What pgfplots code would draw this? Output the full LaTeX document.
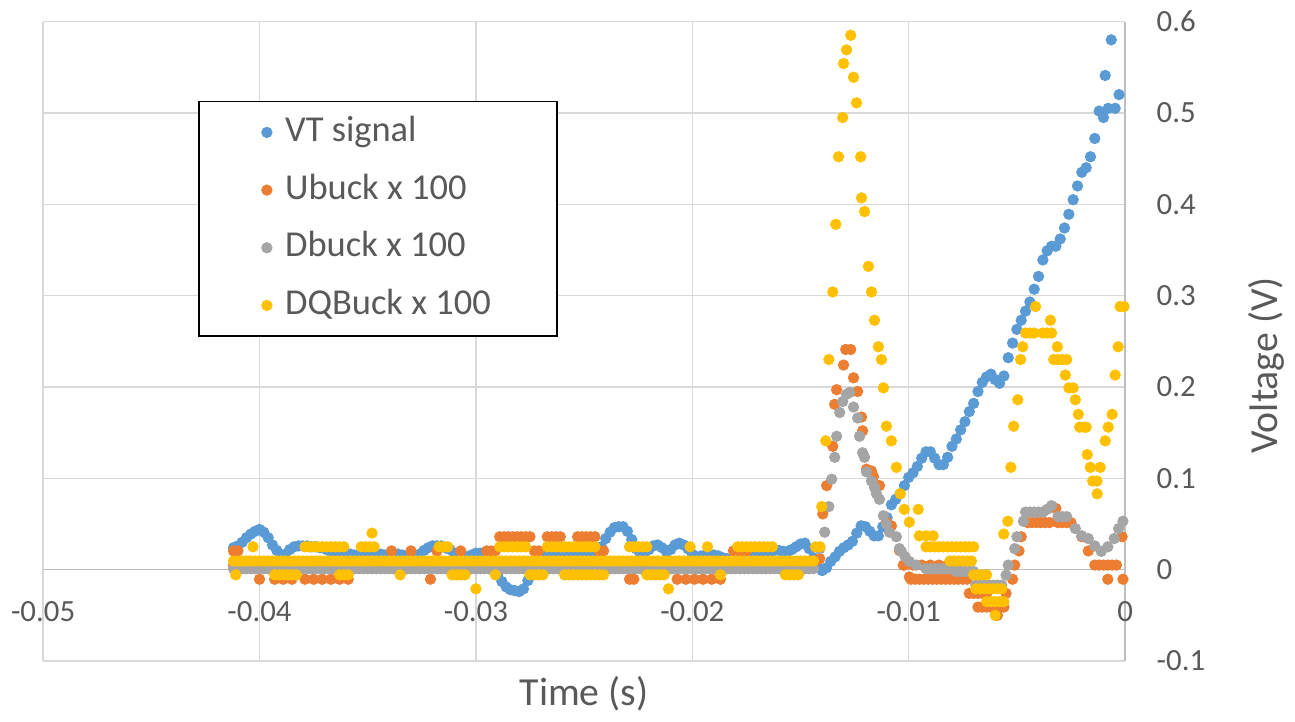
\documentclass[border=0pt]{standalone}
\usepackage{pgfplots}
\usepackage{pgfplotstable}
\pgfplotsset{compat=1.18}
\usepackage{fontspec}
\setmainfont{Carlito}

\definecolor{vtblue}{HTML}{5B9BD5}
\definecolor{ubuck}{HTML}{ED7D31}
\definecolor{dbuck}{HTML}{A5A5A5}
\definecolor{dqbuck}{HTML}{FFC000}
\definecolor{labelgray}{HTML}{595959}
\definecolor{gridgray}{HTML}{D9D9D9}
\definecolor{axisgray}{HTML}{BFBFBF}

% common sample grid: VT signal and the flat part of the three buck traces
\pgfplotstableread{
t vt ub db dq
-0.0412 0.024 0.005 0.001 0.0095
-0.0410 0.026 0.005 0.001 0.0095
-0.0408 0.030 0.005 0.001 0.0095
-0.0406 0.035 0.005 0.001 0.0095
-0.0404 0.039 0.005 0.001 0.0095
-0.0402 0.042 0.005 0.001 0.0095
-0.0400 0.044 0.005 0.001 0.0095
-0.0398 0.041 0.005 0.001 0.0095
-0.0396 0.035 0.005 0.001 0.0095
-0.0394 0.027 0.005 0.001 0.0095
-0.0392 0.021 0.005 0.001 0.0095
-0.0390 0.016 0.005 0.001 0.0095
-0.0388 0.017 0.005 0.001 0.0095
-0.0386 0.022 0.005 0.001 0.0095
-0.0384 0.025 0.005 0.001 0.0095
-0.0382 0.026 0.005 0.001 0.0095
-0.0380 0.026 0.005 0.001 0.0095
-0.0378 0.026 0.005 0.001 0.0095
-0.0376 0.025 0.005 0.001 0.0095
-0.0374 0.025 0.005 0.001 0.0095
-0.0372 0.024 0.005 0.001 0.0095
-0.0370 0.023 0.005 0.001 0.0095
-0.0368 0.021 0.005 0.001 0.0095
-0.0366 0.020 0.005 0.001 0.0095
-0.0364 0.020 0.005 0.001 0.0095
-0.0362 0.019 0.005 0.001 0.0095
-0.0360 0.017 0.005 0.001 0.0095
-0.0358 0.017 0.005 0.001 0.0095
-0.0356 0.016 0.005 0.001 0.0095
-0.0354 0.015 0.005 0.001 0.0095
-0.0352 0.014 0.005 0.001 0.0095
-0.0350 0.014 0.005 0.001 0.0095
-0.0348 0.015 0.005 0.001 0.0095
-0.0346 0.017 0.005 0.001 0.0095
-0.0344 0.017 0.005 0.001 0.0095
-0.0342 0.016 0.005 0.001 0.0095
-0.0340 0.014 0.005 0.001 0.0095
-0.0338 0.015 0.005 0.001 0.0095
-0.0336 0.017 0.005 0.001 0.0095
-0.0334 0.016 0.005 0.001 0.0095
-0.0332 0.015 0.005 0.001 0.0095
-0.0330 0.014 0.005 0.001 0.0095
-0.0328 0.015 0.005 0.001 0.0095
-0.0326 0.017 0.005 0.001 0.0095
-0.0324 0.021 0.005 0.001 0.0095
-0.0322 0.024 0.005 0.001 0.0095
-0.0320 0.026 0.005 0.001 0.0095
-0.0318 0.026 0.005 0.001 0.0095
-0.0316 0.026 0.005 0.001 0.0095
-0.0314 0.024 0.005 0.001 0.0095
-0.0312 0.022 0.005 0.001 0.0095
-0.0310 0.018 0.005 0.001 0.0095
-0.0308 0.014 0.005 0.001 0.0095
-0.0306 0.012 0.005 0.001 0.0095
-0.0304 0.014 0.005 0.001 0.0095
-0.0302 0.016 0.005 0.001 0.0095
-0.0300 0.018 0.005 0.001 0.0095
-0.0298 0.018 0.005 0.001 0.0095
-0.0296 0.015 0.005 0.001 0.0095
-0.0294 0.010 0.005 0.001 0.0095
-0.0292 0.002 0.005 0.001 0.0095
-0.0290 -0.006 0.005 0.001 0.0095
-0.0288 -0.013 0.005 0.001 0.0095
-0.0286 -0.019 0.005 0.001 0.0095
-0.0284 -0.022 0.005 0.001 0.0095
-0.0282 -0.023 0.005 0.001 0.0095
-0.0280 -0.024 0.005 0.001 0.0095
-0.0278 -0.021 0.005 0.001 0.0095
-0.0276 -0.012 0.005 0.001 0.0095
-0.0274 0.000 0.005 0.001 0.0095
-0.0272 0.011 0.005 0.001 0.0095
-0.0270 0.016 0.005 0.001 0.0095
-0.0268 0.018 0.005 0.001 0.0095
-0.0266 0.017 0.005 0.001 0.0095
-0.0264 0.015 0.005 0.001 0.0095
-0.0262 0.014 0.005 0.001 0.0095
-0.0260 0.013 0.005 0.001 0.0095
-0.0258 0.014 0.005 0.001 0.0095
-0.0256 0.015 0.005 0.001 0.0095
-0.0254 0.017 0.005 0.001 0.0095
-0.0252 0.017 0.005 0.001 0.0095
-0.0250 0.016 0.005 0.001 0.0095
-0.0248 0.014 0.005 0.001 0.0095
-0.0246 0.014 0.005 0.001 0.0095
-0.0244 0.016 0.005 0.001 0.0095
-0.0242 0.025 0.005 0.001 0.0095
-0.0240 0.034 0.005 0.001 0.0095
-0.0238 0.041 0.005 0.001 0.0095
-0.0236 0.046 0.005 0.001 0.0095
-0.0234 0.047 0.005 0.001 0.0095
-0.0232 0.047 0.005 0.001 0.0095
-0.0230 0.042 0.005 0.001 0.0095
-0.0228 0.033 0.005 0.001 0.0095
-0.0226 0.023 0.005 0.001 0.0095
-0.0224 0.017 0.005 0.001 0.0095
-0.0222 0.019 0.005 0.001 0.0095
-0.0220 0.022 0.005 0.001 0.0095
-0.0218 0.026 0.005 0.001 0.0095
-0.0216 0.027 0.005 0.001 0.0095
-0.0214 0.024 0.005 0.001 0.0095
-0.0212 0.020 0.005 0.001 0.0095
-0.0210 0.022 0.005 0.001 0.0095
-0.0208 0.027 0.005 0.001 0.0095
-0.0206 0.029 0.005 0.001 0.0095
-0.0204 0.027 0.005 0.001 0.0095
-0.0202 0.023 0.005 0.001 0.0095
-0.0200 0.017 0.005 0.001 0.0095
-0.0198 0.014 0.005 0.001 0.0095
-0.0196 0.015 0.005 0.001 0.0095
-0.0194 0.016 0.005 0.001 0.0095
-0.0192 0.017 0.005 0.001 0.0095
-0.0190 0.016 0.005 0.001 0.0095
-0.0188 0.015 0.005 0.001 0.0095
-0.0186 0.013 0.005 0.001 0.0095
-0.0184 0.012 0.005 0.001 0.0095
-0.0182 0.011 0.005 0.001 0.0095
-0.0180 0.010 0.005 0.001 0.0095
-0.0178 0.011 0.005 0.001 0.0095
-0.0176 0.012 0.005 0.001 0.0095
-0.0174 0.013 0.005 0.001 0.0095
-0.0172 0.014 0.005 0.001 0.0095
-0.0170 0.015 0.005 0.001 0.0095
-0.0168 0.016 0.005 0.001 0.0095
-0.0166 0.017 0.005 0.001 0.0095
-0.0164 0.020 0.005 0.001 0.0095
-0.0162 0.021 0.005 0.001 0.0095
-0.0160 0.021 0.005 0.001 0.0095
-0.0158 0.020 0.005 0.001 0.0095
-0.0156 0.020 0.005 0.001 0.0095
-0.0154 0.022 0.005 0.001 0.0095
-0.0152 0.025 0.005 0.001 0.0095
-0.0150 0.028 0.005 0.001 0.0095
-0.0148 0.029 0.005 0.001 0.0095
-0.0146 0.023 0.005 0.001 0.0095
-0.0144 0.013 0.005 0.001 0.0095
-0.0142 0.003 nan nan nan
-0.0140 -0.001 nan nan nan
-0.0138 0.002 nan nan nan
-0.0136 0.009 nan nan nan
-0.0134 0.014 nan nan nan
-0.0132 0.020 nan nan nan
-0.0130 0.024 nan nan nan
-0.0128 0.027 nan nan nan
-0.0126 0.031 nan nan nan
-0.0124 0.040 nan nan nan
-0.0122 0.048 nan nan nan
-0.0120 0.047 nan nan nan
-0.0118 0.042 nan nan nan
-0.0116 0.037 nan nan nan
-0.0114 0.037 nan nan nan
-0.0112 0.047 nan nan nan
-0.0110 0.057 nan nan nan
-0.0108 0.071 nan nan nan
-0.0106 0.077 nan nan nan
-0.0104 0.083 nan nan nan
-0.0102 0.092 nan nan nan
-0.0100 0.101 nan nan nan
-0.0098 0.106 nan nan nan
-0.0096 0.113 nan nan nan
-0.0094 0.122 nan nan nan
-0.0092 0.129 nan nan nan
-0.0090 0.129 nan nan nan
-0.0088 0.122 nan nan nan
-0.0086 0.115 nan nan nan
-0.0084 0.115 nan nan nan
-0.0082 0.123 nan nan nan
-0.0080 0.135 nan nan nan
-0.0078 0.143 nan nan nan
-0.0076 0.153 nan nan nan
-0.0074 0.162 nan nan nan
-0.0072 0.173 nan nan nan
-0.0070 0.182 nan nan nan
-0.0068 0.195 nan nan nan
-0.0066 0.205 nan nan nan
-0.0064 0.211 nan nan nan
-0.0062 0.214 nan nan nan
-0.0060 0.208 nan nan nan
-0.0058 0.204 nan nan nan
-0.0056 0.212 nan nan nan
-0.0054 0.232 nan nan nan
-0.0052 0.248 nan nan nan
-0.0050 0.263 nan nan nan
-0.0048 0.273 nan nan nan
-0.0046 0.283 nan nan nan
-0.0044 0.293 nan nan nan
-0.0042 0.307 nan nan nan
-0.0040 0.321 nan nan nan
-0.0038 0.339 nan nan nan
-0.0036 0.349 nan nan nan
-0.0034 0.354 nan nan nan
-0.0032 0.354 nan nan nan
-0.0030 0.362 nan nan nan
-0.0028 0.374 nan nan nan
-0.0026 0.389 nan nan nan
-0.0024 0.405 nan nan nan
-0.0022 0.420 nan nan nan
-0.0020 0.435 nan nan nan
-0.0018 0.440 nan nan nan
-0.0016 0.452 nan nan nan
-0.0014 0.472 nan nan nan
-0.0012 0.502 nan nan nan
-0.0010 0.495 nan nan nan
-0.00092 0.541 nan nan nan
-0.00078 0.505 nan nan nan
-0.00064 0.580 nan nan nan
-0.00046 0.505 nan nan nan
-0.00028 0.520 nan nan nan
}\gridtable

\pgfplotsset{
  excel marks/.style={only marks, mark=*, mark size=1.5pt,
    mark options={draw=#1, fill=#1}, color=#1},
}

\begin{document}
\begin{tikzpicture}
\begin{axis}[
  axis lines=middle,
  axis line style={-, draw=axisgray, line width=0.45pt},
  scale only axis, width=326.4pt, height=192.9pt,
  xmin=-0.05, xmax=0, ymin=-0.1, ymax=0.6,
  clip=false,
  scaled x ticks=false, scaled y ticks=false,
  xtick={-0.05,-0.04,-0.03,-0.02,-0.01,0},
  xticklabels={-0.05,-0.04,-0.03,-0.02,-0.01,0},
  ytick={-0.1,0,0.1,0.2,0.3,0.4,0.5,0.6},
  yticklabels={-0.1,0,0.1,0.2,0.3,0.4,0.5,0.6},
  hide obscured x ticks=false, hide obscured y ticks=false,
  major tick length=0pt,
  grid=major, grid style={draw=gridgray, line width=0.45pt},
  tick label style={font=\fontsize{9.3}{11}\selectfont, text=labelgray},
  xticklabel style={anchor=north, yshift=-6pt},
  yticklabel style={anchor=west, xshift=6pt},
  every axis x label/.style={at={(rel axis cs:0.5,0)}, anchor=north, yshift=-1pt,
    font=\fontsize{12}{14}\selectfont, text=labelgray},
  every axis y label/.style={at={(rel axis cs:1,0.462)}, anchor=center, rotate=90,
    yshift=-42.5pt, font=\fontsize{12}{14}\selectfont, text=labelgray},
  xlabel={Time (s)}, ylabel={Voltage (V)},
  legend cell align=left,
  legend image code/.code={\draw[#1] plot coordinates {(0pt,0pt)};},
  legend style={at={(0.1434,0.8756)}, anchor=north west, draw=black,
    line width=0.4pt, fill=white, font=\fontsize{11}{13}\selectfont,
    text=labelgray, inner xsep=19pt, inner ysep=3pt, row sep=4.9pt,
    column sep=3pt, nodes={inner sep=1pt, text height=8pt, text depth=2.5pt}},
]
\coordinate (pSW) at (rel axis cs:0,0);
\coordinate (pNE) at (rel axis cs:1,1);

% VT signal
\addplot[excel marks=vtblue] table[x=t, y=vt] {\gridtable};
\addlegendentry{VT signal}

% Ubuck x 100
\addplot[excel marks=ubuck] table[x=t, y=ub] {\gridtable};
\addlegendentry{Ubuck x 100}
\addplot[excel marks=ubuck, forget plot] coordinates {
(-0.0412,0.0205) (-0.0410,0.0205) (-0.0339,0.0205) (-0.0330,0.0205) (-0.0318,0.0205)
(-0.0307,0.0205) (-0.0295,0.0205) (-0.0293,0.0205) (-0.0291,0.0205) (-0.0273,0.0205)
(-0.0271,0.0205) (-0.0243,0.0205) (-0.0241,0.0205) (-0.0181,0.0205) (-0.0179,0.0205)
(-0.0177,0.0205) (-0.0175,0.0205)
(-0.0289,0.036) (-0.0287,0.036) (-0.0285,0.036) (-0.0283,0.036) (-0.0281,0.036)
(-0.0279,0.036) (-0.0277,0.036) (-0.0275,0.036) (-0.0267,0.036) (-0.0265,0.036)
(-0.0263,0.036) (-0.0261,0.036) (-0.0253,0.036) (-0.0251,0.036) (-0.0249,0.036)
(-0.0247,0.036) (-0.0245,0.036)
(-0.0400,-0.0105) (-0.0393,-0.0105) (-0.0389,-0.0105) (-0.0385,-0.0105) (-0.0379,-0.0105)
(-0.0375,-0.0105) (-0.0371,-0.0105) (-0.0367,-0.0105) (-0.0363,-0.0105) (-0.0359,-0.0105)
(-0.0321,-0.0105) (-0.0229,-0.0105) (-0.0227,-0.0105) (-0.0207,-0.0105) (-0.0203,-0.0105)
(-0.0199,-0.0105) (-0.0195,-0.0105) (-0.0191,-0.0105) (-0.0187,-0.0105)
(-0.01411,0.012) (-0.01397,0.061) (-0.01379,0.092) (-0.01351,0.135) (-0.01342,0.181)
(-0.01333,0.197) (-0.01301,0.224) (-0.01291,0.241) (-0.01268,0.241) (-0.01255,0.210)
(-0.01236,0.195) (-0.01218,0.167) (-0.01213,0.152) (-0.01195,0.110) (-0.01172,0.108)
(-0.01163,0.102) (-0.01149,0.092) (-0.01135,0.092) (-0.01103,0.052) (-0.01080,0.048)
(-0.01043,0.021) (-0.01025,0.005) (-0.00997,-0.008)
(-0.0099,-0.0105) (-0.0097,-0.0105) (-0.0095,-0.0105) (-0.0093,-0.0105) (-0.0091,-0.0105)
(-0.0089,-0.0105) (-0.0087,-0.0105) (-0.0085,-0.0105) (-0.0083,-0.0105) (-0.0081,-0.0105)
(-0.0079,-0.0105) (-0.0077,-0.0105) (-0.0075,-0.0105) (-0.0073,-0.0105)
(-0.0102,0.005) (-0.0098,0.005) (-0.0094,0.005) (-0.0090,0.005) (-0.0086,0.005)
(-0.0082,0.005) (-0.0078,0.005)
(-0.0072,-0.026) (-0.0070,-0.026) (-0.0068,-0.026) (-0.0066,-0.026) (-0.0064,-0.026)
(-0.0068,-0.041) (-0.0066,-0.041) (-0.0064,-0.041) (-0.0062,-0.041) (-0.0060,-0.041)
(-0.0058,-0.041) (-0.0056,-0.041) (-0.0059,-0.050)
(-0.0055,-0.026) (-0.0052,-0.0105) (-0.0051,0.005) (-0.0049,0.0205) (-0.0048,0.036)
(-0.0045,0.0515) (-0.0043,0.0515) (-0.0041,0.0515) (-0.0039,0.0515) (-0.0037,0.0515)
(-0.0035,0.0515) (-0.0032,0.067) (-0.0031,0.0515) (-0.0029,0.0515) (-0.0027,0.0515)
(-0.0025,0.0515) (-0.0020,0.036) (-0.0017,0.0205)
(-0.0014,0.005) (-0.0012,0.005) (-0.0010,0.005) (-0.0008,0.005) (-0.0006,0.005)
(-0.0004,0.005) (-0.0008,-0.0105) (-0.0001,-0.0105) (-0.00014,0.036)
};

% Dbuck x 100
\addplot[excel marks=dbuck] table[x=t, y=db] {\gridtable};
\addlegendentry{Dbuck x 100}
\addplot[excel marks=dbuck, forget plot] coordinates {
(-0.01411,0.023) (-0.01388,0.041) (-0.01369,0.069) (-0.01356,0.099) (-0.01342,0.123)
(-0.01333,0.146) (-0.01319,0.172) (-0.01305,0.184) (-0.01287,0.192) (-0.01273,0.194)
(-0.01255,0.178) (-0.01236,0.166) (-0.01227,0.146) (-0.01213,0.128) (-0.01204,0.123)
(-0.01195,0.107) (-0.01172,0.097) (-0.01158,0.090) (-0.01149,0.083) (-0.01135,0.077)
(-0.01117,0.059) (-0.01103,0.050) (-0.01089,0.041) (-0.01057,0.036) (-0.01043,0.023)
(-0.01034,0.020) (-0.01016,0.014) (-0.00997,0.009) (-0.00965,0.005)
(-0.0092,0.001) (-0.0090,0.001) (-0.0088,0.001) (-0.0086,0.001) (-0.0084,0.001)
(-0.0082,0.001) (-0.0080,0.001)
(-0.0078,-0.002) (-0.0076,-0.002) (-0.0074,-0.002) (-0.0072,-0.002) (-0.0070,-0.002)
(-0.0069,-0.017) (-0.0067,-0.017) (-0.0065,-0.017) (-0.0063,-0.017) (-0.0061,-0.017)
(-0.0059,-0.017) (-0.0057,-0.017)
(-0.0055,-0.006) (-0.0054,0.005) (-0.0051,0.023) (-0.0050,0.036) (-0.0047,0.053)
(-0.0046,0.063) (-0.0044,0.063) (-0.0042,0.063) (-0.0040,0.063) (-0.0038,0.063)
(-0.0036,0.066) (-0.0034,0.070)
(-0.0031,0.058) (-0.0029,0.058) (-0.0027,0.058)
(-0.0023,0.045) (-0.0020,0.037) (-0.0017,0.034) (-0.0014,0.026) (-0.0011,0.020)
(-0.0008,0.025) (-0.0005,0.034) (-0.0003,0.045) (-0.0001,0.053)
};

% DQBuck x 100
\addplot[excel marks=dqbuck] table[x=t, y=dq] {\gridtable};
\addlegendentry{DQBuck x 100}
\addplot[excel marks=dqbuck, forget plot] coordinates {
(-0.0403,0.025)
(-0.0379,0.025) (-0.0377,0.025) (-0.0375,0.025) (-0.0373,0.025) (-0.0371,0.025)
(-0.0369,0.025) (-0.0367,0.025) (-0.0365,0.025) (-0.0363,0.025) (-0.0361,0.025)
(-0.0353,0.025) (-0.0351,0.025) (-0.0349,0.025) (-0.0347,0.025)
(-0.0317,0.025) (-0.0315,0.025) (-0.0313,0.025)
(-0.0289,0.025) (-0.0287,0.025) (-0.0285,0.025) (-0.0283,0.025) (-0.0281,0.025)
(-0.0279,0.025) (-0.0277,0.025)
(-0.0267,0.025) (-0.0265,0.025) (-0.0263,0.025) (-0.0261,0.025) (-0.0259,0.025)
(-0.0257,0.025) (-0.0255,0.025) (-0.0253,0.025) (-0.0251,0.025) (-0.0249,0.025)
(-0.0247,0.025) (-0.0245,0.025)
(-0.0229,0.025) (-0.0227,0.025) (-0.0225,0.025) (-0.0223,0.025) (-0.0221,0.025)
(-0.0201,0.025) (-0.0193,0.025)
(-0.0179,0.025) (-0.0177,0.025) (-0.0175,0.025) (-0.0173,0.025) (-0.0171,0.025)
(-0.0169,0.025) (-0.0167,0.025) (-0.0165,0.025) (-0.0163,0.025)
(-0.0143,0.025) (-0.0141,0.025)
(-0.0348,0.040)
(-0.0411,-0.0057)
(-0.0393,-0.0057) (-0.0391,-0.0057) (-0.0389,-0.0057) (-0.0387,-0.0057) (-0.0385,-0.0057)
(-0.0383,-0.0057)
(-0.0363,-0.0057) (-0.0361,-0.0057) (-0.0359,-0.0057) (-0.0335,-0.0057)
(-0.0311,-0.0057) (-0.0309,-0.0057) (-0.0307,-0.0057) (-0.0305,-0.0057) (-0.0291,-0.0057)
(-0.0275,-0.0057) (-0.0273,-0.0057) (-0.0271,-0.0057) (-0.0269,-0.0057)
(-0.0259,-0.0057) (-0.0257,-0.0057) (-0.0255,-0.0057) (-0.0253,-0.0057) (-0.0251,-0.0057)
(-0.0249,-0.0057) (-0.0247,-0.0057) (-0.0245,-0.0057) (-0.0243,-0.0057) (-0.0241,-0.0057)
(-0.0221,-0.0057) (-0.0219,-0.0057) (-0.0217,-0.0057) (-0.0215,-0.0057) (-0.0213,-0.0057)
(-0.0187,-0.0057)
(-0.0157,-0.0057) (-0.0155,-0.0057) (-0.0153,-0.0057) (-0.0151,-0.0057)
(-0.0300,-0.021) (-0.0211,-0.021)
(-0.01402,0.069) (-0.01383,0.141) (-0.01369,0.230) (-0.01351,0.304) (-0.01337,0.378)
(-0.01324,0.452) (-0.01305,0.495) (-0.01301,0.554) (-0.01287,0.569) (-0.01268,0.585)
(-0.01255,0.539) (-0.01241,0.511) (-0.01222,0.452) (-0.01218,0.407) (-0.01204,0.392)
(-0.01186,0.332) (-0.01172,0.304) (-0.01158,0.273) (-0.01140,0.244) (-0.01126,0.230)
(-0.01117,0.199) (-0.01103,0.157) (-0.01080,0.141) (-0.01057,0.112) (-0.01039,0.083)
(-0.01020,0.066) (-0.00997,0.052) (-0.00956,0.066) (-0.00951,0.037) (-0.00919,0.037)
(-0.00887,0.037)
(-0.0092,0.025) (-0.0090,0.025) (-0.0088,0.025) (-0.0086,0.025) (-0.0084,0.025)
(-0.0082,0.025) (-0.0080,0.025) (-0.0078,0.025) (-0.0076,0.025) (-0.0074,0.025)
(-0.0072,0.025) (-0.0070,0.025)
(-0.0081,0.0095) (-0.0079,0.0095) (-0.0077,0.0095) (-0.0075,0.0095) (-0.0073,0.0095)
(-0.0071,0.0095)
(-0.0070,-0.0057) (-0.0068,-0.0057) (-0.0066,-0.0057) (-0.0064,-0.0057)
(-0.0069,-0.021) (-0.0067,-0.021) (-0.0065,-0.021) (-0.0063,-0.021) (-0.0061,-0.021)
(-0.0059,-0.021) (-0.0057,-0.021)
(-0.0064,-0.035) (-0.0062,-0.035) (-0.0060,-0.035) (-0.0058,-0.035) (-0.0056,-0.035)
(-0.0060,-0.050)
(-0.00561,0.039) (-0.00542,0.053) (-0.00528,0.112) (-0.00515,0.157) (-0.00496,0.186)
(-0.00483,0.230) (-0.00473,0.244)
(-0.0046,0.259) (-0.0044,0.259) (-0.0042,0.259) (-0.0038,0.259) (-0.0036,0.259)
(-0.0034,0.259)
(-0.00414,0.288) (-0.00345,0.273)
(-0.0033,0.230) (-0.0031,0.230) (-0.0029,0.230) (-0.0027,0.230)
(-0.00313,0.244) (-0.00276,0.213) (-0.0026,0.199) (-0.0024,0.199) (-0.0023,0.186)
(-0.00216,0.170) (-0.0021,0.156) (-0.0019,0.156) (-0.0018,0.156) (-0.00175,0.126)
(-0.00161,0.112) (-0.0015,0.097) (-0.0013,0.097) (-0.00129,0.083) (-0.00115,0.112)
(-0.00092,0.141) (-0.00078,0.156) (-0.0006,0.170) (-0.00046,0.213) (-0.00032,0.244)
(-0.00023,0.288) (-0.00005,0.288)
};
\end{axis}
\path ([shift={(-12.6pt,-16.5pt)}]pSW) rectangle ([shift={(49.5pt,6pt)}]pNE);
\end{tikzpicture}
\end{document}
